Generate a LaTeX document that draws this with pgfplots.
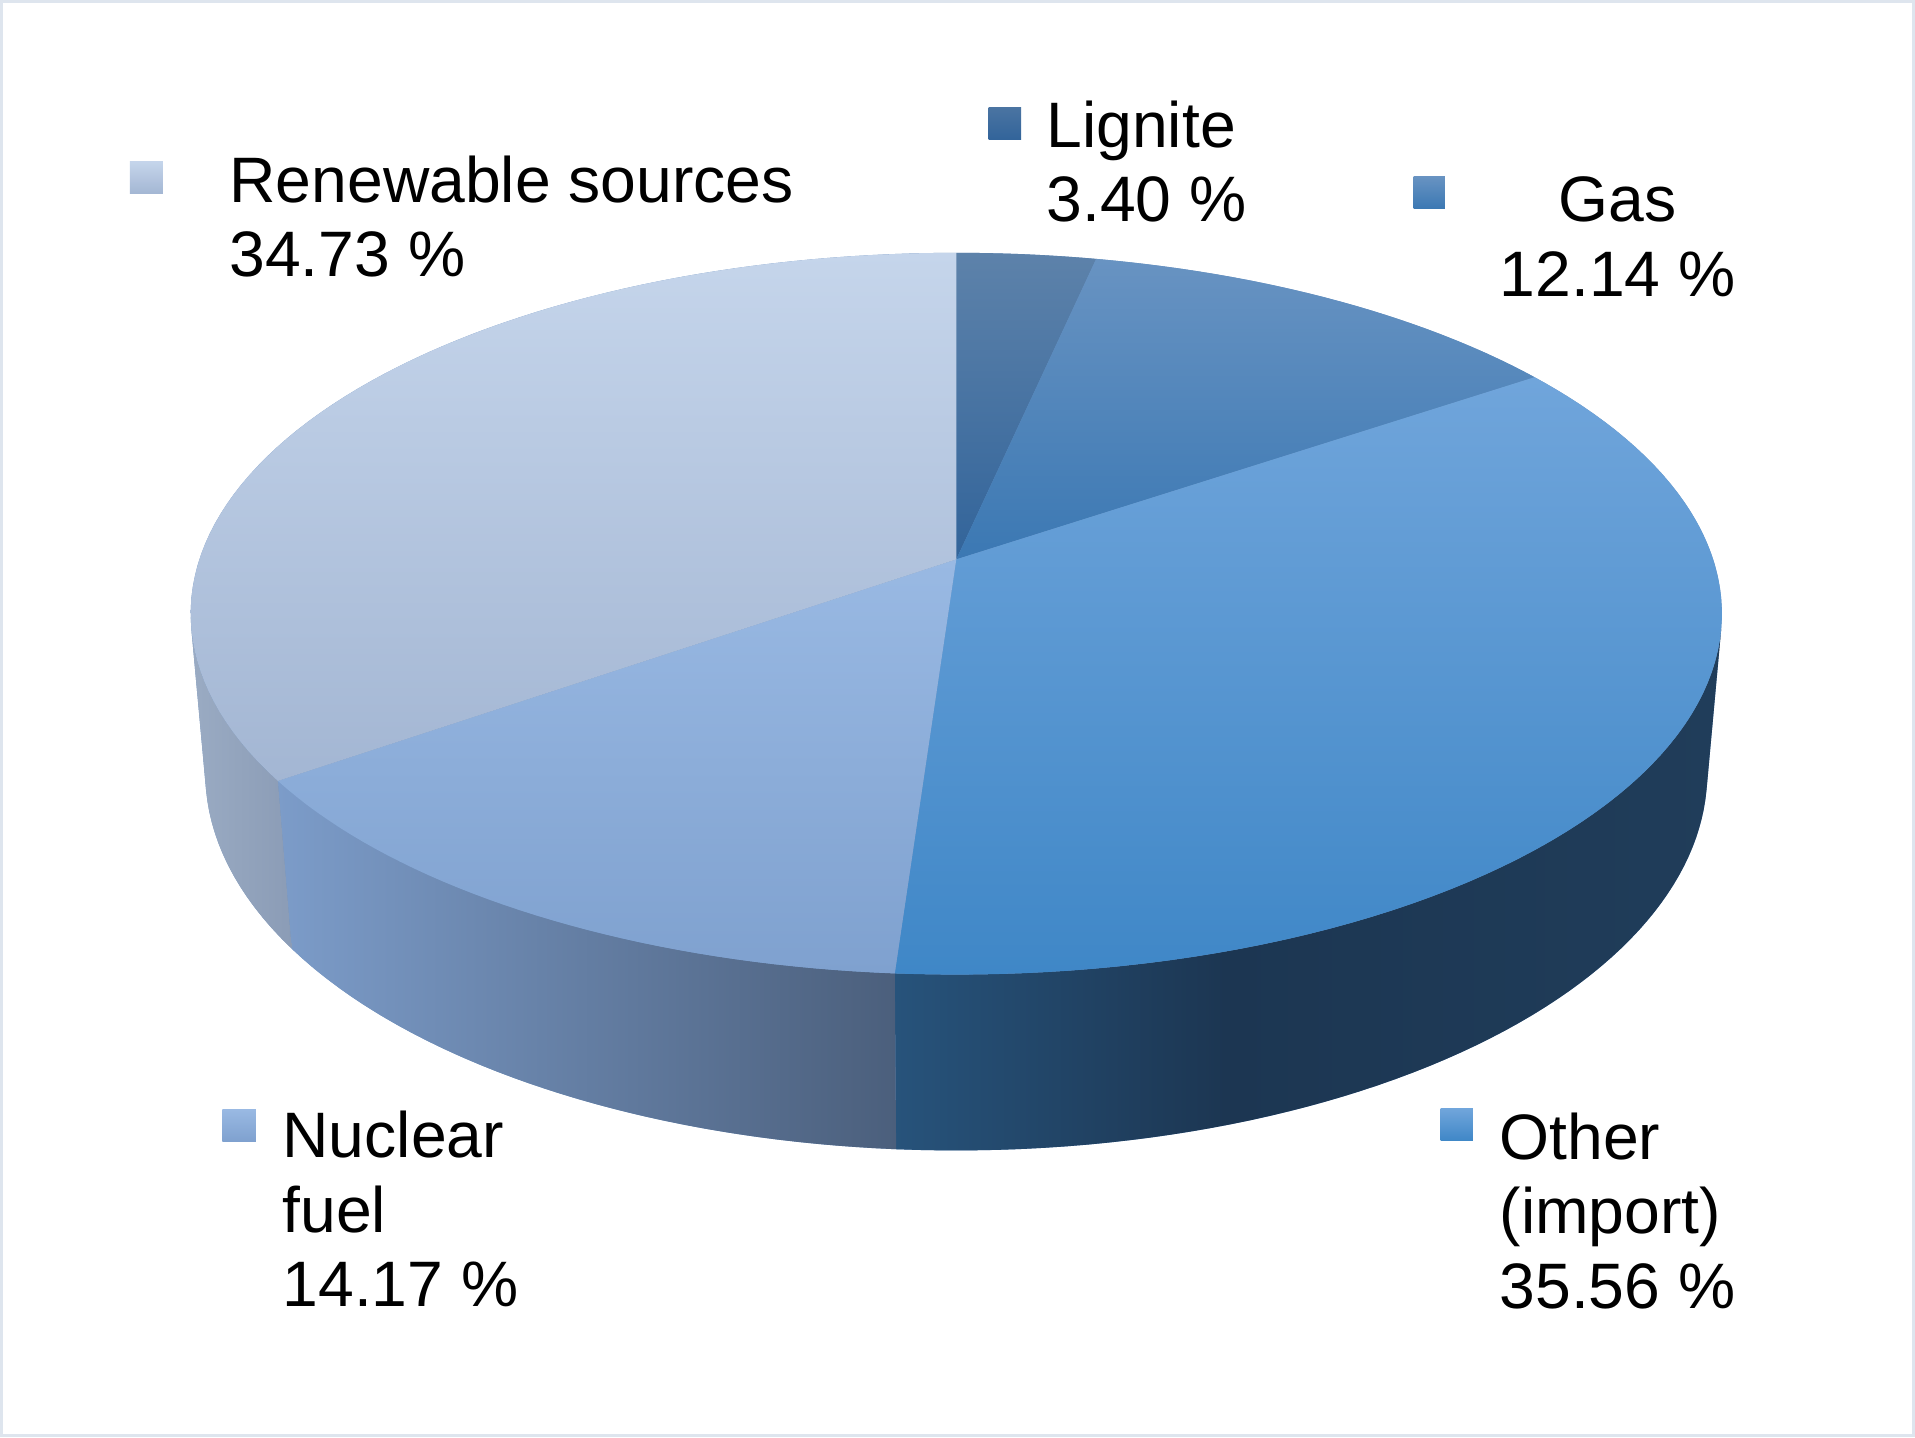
\documentclass[border=0pt]{standalone}
\usepackage{pgfplots}
\pgfplotsset{compat=1.18}
\usepackage{fontspec}
\setmainfont{Liberation Sans}

\definecolor{bordc}{HTML}{DEE5EE}
\definecolor{backc}{HTML}{6F93C0}
\definecolor{ligT}{HTML}{5D82AA}
\definecolor{ligB}{HTML}{32649A}
\definecolor{ligQ}{HTML}{4A74A2}
\definecolor{gasT}{HTML}{6893C2}
\definecolor{gasB}{HTML}{3B78B3}
\definecolor{othT}{HTML}{70A5DB}
\definecolor{othB}{HTML}{3F87C7}
\definecolor{nucT}{HTML}{99B9E3}
\definecolor{nucB}{HTML}{7FA1CF}
\definecolor{renT}{HTML}{C5D5EB}
\definecolor{renB}{HTML}{A3B6D3}
\definecolor{renSL}{HTML}{9AABC3}
\definecolor{renSR}{HTML}{8B9CB6}
\definecolor{nucSL}{HTML}{7C9CC9}
\definecolor{nucSR}{HTML}{4B5F7C}
\definecolor{othSa}{HTML}{27537B}
\definecolor{othSb}{HTML}{1C3652}
\definecolor{othSc}{HTML}{203D5A}

\pgfdeclarehorizontalshading{othside}{100bp}{color(0bp)=(othSa); color(25bp)=(othSa); color(45bp)=(othSb); color(75bp)=(othSc); color(100bp)=(othSc)}

% shares in percent (clockwise from 12 o'clock)
\def\vLig{3.40}
\def\vGas{12.14}
\def\vOth{35.56}
\def\vNuc{14.17}
\def\vRen{34.73}
\pgfmathsetmacro\aA{90}
\pgfmathsetmacro\aB{\aA-3.6*\vLig}
\pgfmathsetmacro\aC{\aB-3.6*\vGas}
\pgfmathsetmacro\aD{\aC-3.6*\vOth}
\pgfmathsetmacro\aE{\aD-3.6*\vNuc}
\pgfmathsetmacro\aF{\aE-3.6*\vRen}
\def\zb{-0.2398}
\def\sL{-168.91}
\def\sR{-11.09}

\newcommand\lab{\fontsize{26.3}{30.35}\selectfont}

\begin{document}
\begin{tikzpicture}[declare function={
  PX(\t,\z)=783+3641*cos(\t)/(5.875+0.8848*sin(\t)-0.466*\z);
  PY(\t,\z)=458-3641*(0.466*sin(\t)+0.8848*\z)/(5.875+0.8848*sin(\t)-0.466*\z);
}]
\begin{axis}[
  x=0.5pt, y=0.5pt, y dir=reverse,
  xmin=0, xmax=1568, ymin=0, ymax=1177,
  hide axis, clip=false,
]
% frame
\draw[color=bordc, line width=1.25pt] (1.25,1.25) rectangle (1566.75,1175.75);

% backing silhouette
\path[fill=backc]
  plot[variable=\t, domain=\sR:{360+\sL}, samples=120] ({PX(\t,0)},{PY(\t,0)})
  -- plot[variable=\t, domain=\sL:\sR, samples=100] ({PX(\t,\zb)},{PY(\t,\zb)}) -- cycle;

% side pieces
\path[shading=othside]
  plot[variable=\t, domain=\aD:\sR, samples=60] ({PX(\t,0)},{PY(\t,0)})
  -- plot[variable=\t, domain=\sR:\aD, samples=60] ({PX(\t,\zb)},{PY(\t,\zb)}) -- cycle;
\path[left color=nucSL, right color=nucSR]
  plot[variable=\t, domain=\aE:\aD, samples=40] ({PX(\t,0)},{PY(\t,0)})
  -- plot[variable=\t, domain=\aD:\aE, samples=40] ({PX(\t,\zb)},{PY(\t,\zb)}) -- cycle;
\path[left color=renSL, right color=renSR]
  plot[variable=\t, domain=\sL:\aE, samples=25] ({PX(\t,0)},{PY(\t,0)})
  -- plot[variable=\t, domain=\aE:\sL, samples=25] ({PX(\t,\zb)},{PY(\t,\zb)}) -- cycle;

% top face wedges
\path[top color=ligT, bottom color=ligB] (783,458)
  -- plot[variable=\t, domain=\aA:\aB, samples=15] ({PX(\t,0)},{PY(\t,0)}) -- cycle;
\path[top color=gasT, bottom color=gasB] (783,458)
  -- plot[variable=\t, domain=\aB:\aC, samples=30] ({PX(\t,0)},{PY(\t,0)}) -- cycle;
\path[top color=othT, bottom color=othB] (783,458)
  -- plot[variable=\t, domain=\aC:\aD, samples=80] ({PX(\t,0)},{PY(\t,0)}) -- cycle;
\path[top color=nucT, bottom color=nucB] (783,458)
  -- plot[variable=\t, domain=\aD:\aE, samples=40] ({PX(\t,0)},{PY(\t,0)}) -- cycle;
\path[top color=renT, bottom color=renB] (783,458)
  -- plot[variable=\t, domain=\aE:\aF, samples=80] ({PX(\t,0)},{PY(\t,0)}) -- cycle;

% legend squares
\path[top color=renT, bottom color=renB] (106.3,132.2) rectangle (133.3,158.8);
\path[top color=ligQ, bottom color=ligB] (809.5,88.4) rectangle (836,114.4);
\path[top color=gasT, bottom color=gasB] (1157.5,144.5) rectangle (1183,171);
\path[top color=nucT, bottom color=nucB] (182,908.5) rectangle (209.5,934.3);
\path[top color=othT, bottom color=othB] (1179.5,908) rectangle (1206,934);

% labels
\node[anchor=base west, inner sep=0pt, font=\lab] at (187.5,166) {Renewable sources};
\node[anchor=base west, inner sep=0pt, font=\lab] at (187.5,226.5) {34.73 \%};
\node[anchor=base west, inner sep=0pt, font=\lab] at (856.5,120.6) {Lignite};
\node[anchor=base west, inner sep=0pt, font=\lab] at (856.5,181) {3.40 \%};
\node[anchor=base, inner sep=0pt, font=\lab] at (1324.5,181.7) {Gas};
\node[anchor=base, inner sep=0pt, font=\lab] at (1324.5,242.8) {12.14 \%};
\node[anchor=base west, inner sep=0pt, font=\lab] at (231,948) {Nuclear};
\node[anchor=base west, inner sep=0pt, font=\lab] at (231,1009) {fuel};
\node[anchor=base west, inner sep=0pt, font=\lab] at (231,1070) {14.17 \%};
\node[anchor=base west, inner sep=0pt, font=\lab] at (1227.5,949.5) {Other};
\node[anchor=base west, inner sep=0pt, font=\lab] at (1227.5,1010) {(import)};
\node[anchor=base west, inner sep=0pt, font=\lab] at (1227.5,1071) {35.56 \%};
\end{axis}
\end{tikzpicture}
\end{document}
